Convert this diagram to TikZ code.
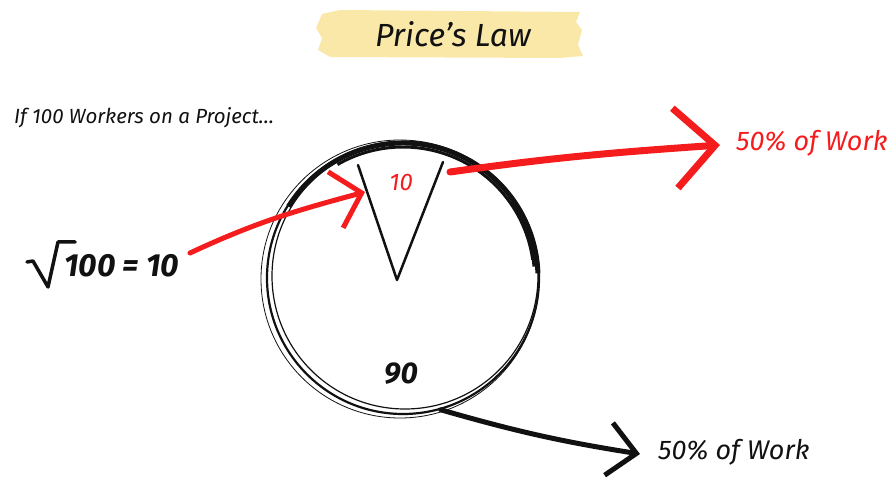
\documentclass[tikz,border=0pt]{standalone}
\usepackage{fontspec}
\setmainfont{Fira Sans}
\usetikzlibrary{positioning, arrows.meta}
\definecolor{ink}{HTML}{111111}
\definecolor{marker}{HTML}{F41C1C}
\definecolor{tape}{HTML}{FAE8A9}

\begin{document}
\begin{tikzpicture}[x=1pt, y=1pt,
    hand/.style={inner sep=0pt, text=ink},
    brush/.style={ink, line width=2.5pt, line cap=round, line join=round},
    redarrow/.style={-{Straight Barb[length=27pt, width=58pt]}, marker,
                     line width=5pt, line cap=round},
    blackarrow/.style={-{Straight Barb[length=28pt, width=53pt]}, ink,
                       line width=5pt, line cap=round}]
  \useasboundingbox (0,0) rectangle (891,477);

  % title tape
  \fill[tape] (322,463) -- (340,467) -- (580,465) -- (576,455) -- (582,447)
    -- (578,432) -- (583,421) -- (560,419) -- (330,420) -- (318,427)
    -- (322,439) -- (316,449) -- cycle;
  \node[hand, font=\itshape\fontsize{32}{32}\selectfont] (title) at (453,443) {Price's Law};

  \node[hand, anchor=west, font=\itshape\fontsize{20.5}{20.5}\selectfont] (intro) at (14,359)
    {If 100 Workers on a Project\dots};

  % the circle of workers
  \node[draw=ink, line width=2.2pt, circle, minimum size=272pt, inner sep=0pt] (ring) at (403,199) {};
  \draw[ink, line width=0.8pt] (400,198) circle[radius=139];
  \draw[ink, line width=1.2pt] (405,201) circle[radius=133];
  \draw[ink, line width=5pt] (403,199) ++(148:135) arc[start angle=148, end angle=2, radius=135];
  \draw[ink, line width=3pt] (403,199) ++(120:131) arc[start angle=120, end angle=8, radius=131];
  \draw[ink, line width=6pt] (403,199) ++(35:133) arc[start angle=35, end angle=5, radius=133];

  \coordinate (apex) at (397,197);
  \draw[brush] (358,312) -- (apex) -- (443,315);

  \node[hand, text=marker, font=\itshape\fontsize{24}{24}\selectfont] (few) at (401,295) {10};
  \node[hand, font=\itshape\bfseries\fontsize{30}{30}\selectfont] (rest) at (401,103) {90};

  % square root, sign drawn by hand
  \node[hand, anchor=west, font=\itshape\bfseries\fontsize{32}{32}\selectfont] (root) at (64,211)
    {100 = 10};
  \draw[ink, line width=3.5pt, line join=round, line cap=round]
    ([xshift=-37pt, yshift=4pt]root.west) -- ++(6,1) -- ++(15,-26) -- ++(10,45) -- ++(17,0);

  \node[hand, anchor=west, text=marker, font=\itshape\fontsize{27}{27}\selectfont] (topwork) at (736,334)
    {50\% of Work};
  \node[hand, anchor=west, font=\itshape\fontsize{27}{27}\selectfont] (botwork) at (658,25)
    {50\% of Work};

  \coordinate (redstart) at (190,224);
  \coordinate (wedgein)  at (365,285);
  \coordinate (wedgeout) at (450,305);

  \draw[redarrow] (redstart) to[out=25, in=195] (wedgein);
  \draw[redarrow, line width=7pt, -{Straight Barb[length=40pt, width=80pt]}]
    (wedgeout) to[out=8, in=184] ([xshift=-16pt, yshift=-2pt]topwork.west);
  \draw[blackarrow] (ring.-74) to[out=-16, in=171] ([xshift=-18pt, yshift=-2pt]botwork.west);
\end{tikzpicture}
\end{document}
